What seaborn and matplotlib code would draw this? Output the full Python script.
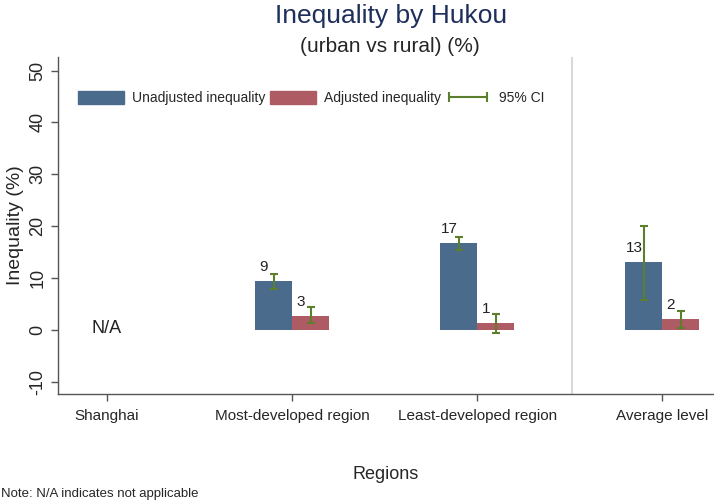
import numpy as np
import pandas as pd
import matplotlib
matplotlib.use("Agg")
import matplotlib.pyplot as plt
import seaborn as sns
from matplotlib.patches import Patch
from matplotlib.lines import Line2D

regions = ["Shanghai", "Most-developed region", "Least-developed region", "Average level"]
unadjusted = [np.nan, 9.4, 16.7, 13.1]
unadj_lo = [np.nan, 8.0, 15.4, 5.8]
unadj_hi = [np.nan, 10.8, 18.0, 20.1]
adjusted = [np.nan, 2.8, 1.3, 2.1]
adj_lo = [np.nan, 1.3, -0.5, 0.5]
adj_hi = [np.nan, 4.4, 3.1, 3.7]
series = ["Unadjusted inequality", "Adjusted inequality"]

blue = "#4a6b8c"
red = "#ae5b64"
green = "#5b7f2d"

df = pd.DataFrame({
    "region": regions * 2,
    "series": [series[0]] * 4 + [series[1]] * 4,
    "value": unadjusted + adjusted,
})

sns.set_style("white")
plt.rcParams["font.family"] = ["Liberation Sans", "DejaVu Sans"]
plt.rcParams["axes.unicode_minus"] = False

fig = plt.figure(figsize=(7.14, 5.03), dpi=100)
ax = fig.add_axes([58 / 714, 1 - 394 / 503, 656 / 714, 337 / 503])

sns.barplot(data=df, x="region", y="value", hue="series", order=regions,
            hue_order=series, palette=[blue, red], width=0.4, gap=0,
            errorbar=None, saturation=1, linewidth=0, ax=ax, legend=False)

# confidence intervals
x = np.arange(len(regions))
for off, vals, lo, hi in [(-0.1, unadjusted, unadj_lo, unadj_hi),
                          (0.1, adjusted, adj_lo, adj_hi)]:
    v = np.array(vals)
    err = np.array([v - np.array(lo), np.array(hi) - v])
    ax.errorbar(x + off, v, yerr=err, fmt="none", ecolor=green,
                elinewidth=1.5, capsize=3, capthick=1.5, zorder=3)
    for xi, val in zip(x + off, vals):
        if not np.isnan(val):
            ax.annotate(f"{round(val):.0f}", (xi, val), xytext=(-7, 5),
                        textcoords="offset points", ha="center", va="bottom",
                        fontsize=11, color="#222222")

ax.text(0, 0.4, "N/A", ha="center", va="center", fontsize=13, color="#222222")
ax.axvline(2.51, color="#d9d9d9", lw=1.5, zorder=0)

ax.set_xlim(-0.265, 3.28)
ax.set_ylim(-12.3, 52.6)
ax.set_yticks(range(-10, 51, 10))
ax.tick_params(axis="both", bottom=True, left=True, length=5, width=1,
               color="#555555")
ax.tick_params(axis="y", labelrotation=90, labelsize=13)
ax.tick_params(axis="x", labelsize=11, pad=6)
for lab in ax.get_yticklabels():
    lab.set_va("center")
ax.set_xlabel("Regions", fontsize=13, labelpad=31)
ax.set_ylabel("Inequality (%)", fontsize=14, labelpad=4)

sns.despine(ax=ax)
for s in ["left", "bottom"]:
    ax.spines[s].set_color("#555555")
    ax.spines[s].set_linewidth(1)

handles = [Patch(facecolor=blue, edgecolor=blue),
           Patch(facecolor=red, edgecolor=red),
           Line2D([0], [0], color=green, lw=1.5, marker="|", markersize=7,
                  markeredgewidth=1.5)]
ax.legend(handles, series + ["95% CI"], loc="center left",
          bbox_to_anchor=(0.02, 0.878), ncol=3, frameon=False, fontsize=10,
          handlelength=3.3, handleheight=1.0, handletextpad=0.6,
          columnspacing=0.3, numpoints=2, borderpad=0)

fig.text(0.548, 0.968, "Inequality by Hukou", ha="center", va="center",
         fontsize=19, color="#1f2f5c")
fig.text(0.546, 0.908, "(urban vs rural) (%)", ha="center", va="center",
         fontsize=15)
fig.text(0.002, 0.018, "Note: N/A indicates not applicable", ha="left",
         va="center", fontsize=9.5)

fig.savefig("out.png", dpi=100)
